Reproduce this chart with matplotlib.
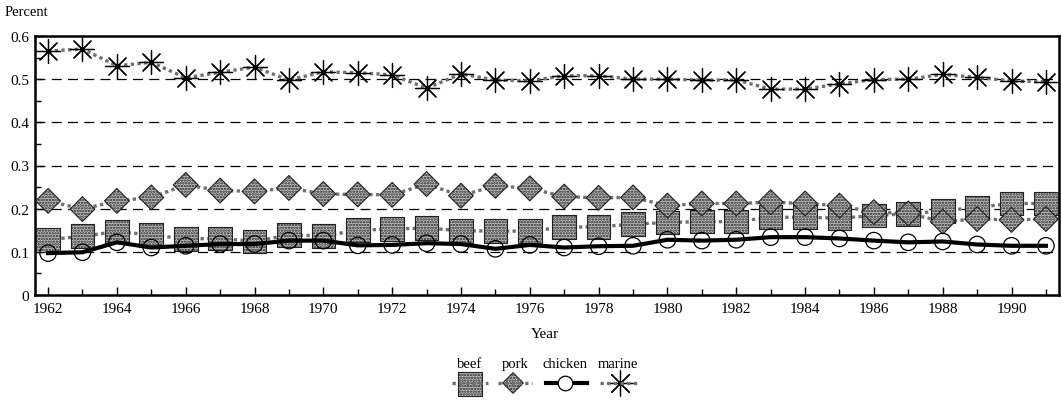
import matplotlib
matplotlib.use("Agg")
from matplotlib import pyplot as plt
import numpy as np

plt.rcParams['font.family'] = ['Liberation Serif', 'DejaVu Serif']
plt.rcParams['hatch.color'] = '#1a1a1a'
plt.rcParams['hatch.linewidth'] = 1.2

years = list(range(1962, 1992))

beef = [0.128, 0.136, 0.147, 0.139, 0.130, 0.131, 0.124, 0.139, 0.137, 0.150,
        0.153, 0.155, 0.149, 0.148, 0.148, 0.157, 0.158, 0.164, 0.168, 0.170,
        0.170, 0.180, 0.180, 0.178, 0.184, 0.188, 0.195, 0.203, 0.212, 0.212]
pork = [0.218, 0.199, 0.218, 0.226, 0.255, 0.242, 0.240, 0.248, 0.234, 0.233,
        0.232, 0.257, 0.230, 0.253, 0.247, 0.228, 0.225, 0.226, 0.207, 0.212,
        0.212, 0.215, 0.212, 0.207, 0.192, 0.189, 0.170, 0.176, 0.174, 0.176]
chicken = [0.097, 0.099, 0.122, 0.110, 0.114, 0.118, 0.118, 0.126, 0.126, 0.115,
           0.116, 0.120, 0.118, 0.107, 0.116, 0.110, 0.113, 0.114, 0.128, 0.126,
           0.128, 0.134, 0.134, 0.131, 0.126, 0.122, 0.124, 0.117, 0.114, 0.114]
marine = [0.565, 0.570, 0.531, 0.539, 0.503, 0.516, 0.528, 0.498, 0.517, 0.515,
          0.510, 0.479, 0.512, 0.498, 0.496, 0.508, 0.508, 0.500, 0.500, 0.498,
          0.498, 0.477, 0.477, 0.489, 0.499, 0.500, 0.511, 0.504, 0.496, 0.494]

series_names = ["beef", "pork", "chicken", "marine"]
ytick_vals = [0, 0.1, 0.2, 0.3, 0.4, 0.5, 0.6]
ytick_labels = ["0", "0.1", "0.2", "0.3", "0.4", "0.5", "0.6"]

dot_line = dict(color='#707070', linestyle=(0, (1, 1)), linewidth=2.4)
hatch_face = dict(facecolor='#c4c4c4', edgecolor='#222222',
                  hatch='......', linewidth=0.8)
star = (8, 2, 0)

fig = plt.figure(figsize=(10.62, 4.02), dpi=100)
ax = fig.add_axes([35/1062, 106/402, 1024/1062, 259/402])

for g in [0.1, 0.2, 0.3, 0.4, 0.5]:
    ax.axhline(g, color='black', linestyle=(0, (8, 5)), linewidth=0.9, zorder=1)

# beef
ax.plot(years, beef, zorder=2, **dot_line)
ax.scatter(years, beef, marker='s', s=290, zorder=3, **hatch_face)
# pork
ax.plot(years, pork, zorder=2, **dot_line)
ax.scatter(years, pork, marker='D', s=160, zorder=4, **hatch_face)
# chicken
ax.plot(years, chicken, color='black', linewidth=3, zorder=5)
ax.scatter(years, chicken, marker='o', s=140, facecolor='none',
           edgecolor='black', linewidth=0.9, zorder=5)
# marine
ax.plot(years, marine, zorder=2, **dot_line)
ax.scatter(years, marine, marker=star, s=300, color='black',
           linewidth=0.9, zorder=6)

ax.set_xlim(1961.62, 1991.38)
ax.set_ylim(0, 0.6)
ax.set_yticks(ytick_vals)
ax.set_yticklabels(ytick_labels)
ax.set_yticks(np.arange(0.05, 0.6, 0.1), minor=True)
ax.set_xticks(years[::2])
ax.set_xticks(years, minor=True)
ax.tick_params(axis='both', which='both', direction='in', labelsize=11)
ax.tick_params(axis='both', which='major', length=6, width=1)
ax.tick_params(axis='both', which='minor', length=4, width=1)
ax.tick_params(axis='y', pad=4)
ax.tick_params(axis='x', pad=5)
for sp in ax.spines.values():
    sp.set_linewidth(1.8)

fig.text(5/1062, 1 - 12/402, "Percent", fontsize=10.5, va='center', ha='left')
fig.text(545/1062, 1 - 335/402, "Year", fontsize=11, va='center', ha='center')

# legend drawn with labels above the symbols
lax = fig.add_axes([0, 0, 1, 1], facecolor='none')
lax.set_xlim(0, 1062)
lax.set_ylim(402, 0)
lax.axis('off')
ly = 384
lax.plot([452, 488], [ly, ly], **dot_line)
lax.scatter([470], [385], marker='s', s=310, **hatch_face)
lax.plot([498, 532], [ly, ly], **dot_line)
lax.scatter([513], [ly], marker='D', s=110, **hatch_face)
lax.plot([546, 587], [ly, ly], color='black', linewidth=3)
lax.scatter([565], [ly], marker='o', s=110, facecolor='white',
            edgecolor='black', linewidth=0.9, zorder=3)
lax.plot([600, 640], [ly, ly], **dot_line)
lax.scatter([620], [ly], marker=star, s=330, color='black', linewidth=0.9)
for name, xc in zip(series_names, [470, 515, 565, 618]):
    lax.text(xc, 365, name, fontsize=10.5, ha='center', va='center')

fig.savefig("out.png", dpi=100)
